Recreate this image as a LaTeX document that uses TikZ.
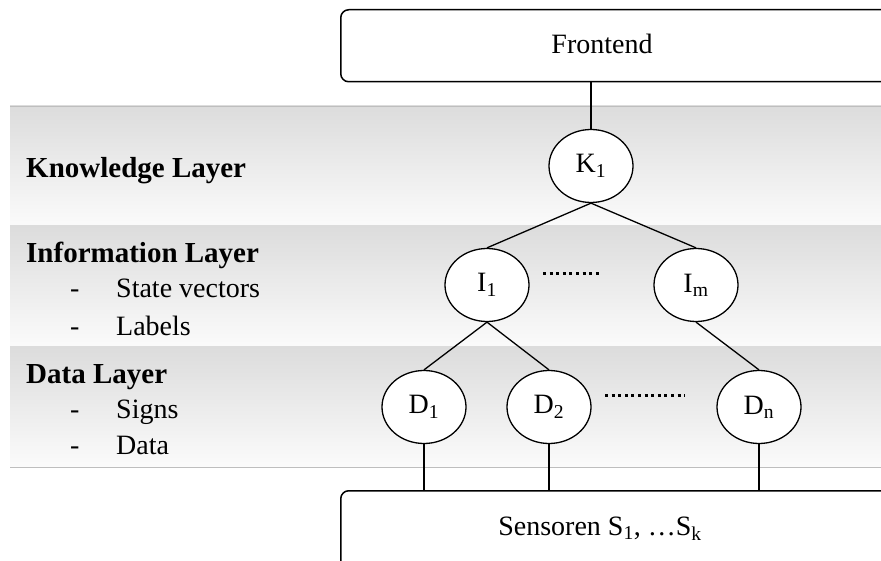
\documentclass[tikz,border=0pt]{standalone}
\usepackage{fontspec}
\setmainfont{Liberation Serif}
\usetikzlibrary{shapes.geometric}
\definecolor{bandtop}{RGB}{220,220,220}
\definecolor{bandbot}{RGB}{251,251,251}
\definecolor{bandline}{RGB}{190,190,190}
\tikzset{
  txt/.style={font=\fontsize{28}{32}\selectfont, inner sep=0pt},
  bold/.style={font=\fontsize{29}{32}\selectfont\bfseries, inner sep=0pt, anchor=base west},
  item/.style={font=\fontsize{28}{32}\selectfont, inner sep=0pt, anchor=base west},
  ell/.style={ellipse, draw=black, line width=1.3pt, fill=white, minimum width=84pt, minimum height=73pt, inner sep=0pt, font=\fontsize{28}{32}\selectfont},
  box/.style={rectangle, rounded corners=8pt, draw=black, line width=1.5pt, fill=white, inner sep=0pt, anchor=north west},
  conn/.style={draw=black, line width=1.3pt},
  dots/.style={draw=black, line width=3pt, dash pattern=on 3pt off 3.6pt}
}
\begin{document}
\begin{tikzpicture}[x=1pt,y=-1pt]
\useasboundingbox (0,0) rectangle (881,561);
\clip (0,0) rectangle (881,561);
\fill[white] (0,0) rectangle (881,561);
% bands
\shade[top color=bandtop, bottom color=bandbot] (10,106) rectangle (881,226);
\shade[top color=bandtop, bottom color=bandbot] (10,226) rectangle (881,347);
\shade[top color=bandtop, bottom color=bandbot] (10,347) rectangle (881,467);
\draw[bandline, line width=0.8pt] (10,106) -- (881,106);
\draw[bandline, line width=0.8pt] (10,467) -- (881,467);
% left labels
\node[bold] (kl) at (26,178) {Knowledge Layer};
\node[bold] (il) at (26,263) {Information Layer};
\node[item] (d1a) at (70,298) {-};
\node[item] (sv) at (116,298) {State vectors};
\node[item] (d1b) at (70,336) {-};
\node[item] (lb) at (116,336) {Labels};
\node[bold] (dl) at (26,383) {Data Layer};
\node[item] (d2a) at (70,418) {-};
\node[item] (sg) at (116,418) {Signs};
\node[item] (d2b) at (70,454) {-};
\node[item] (dt) at (116,454) {Data};
% boxes
\node[box, minimum width=620pt, minimum height=72pt] (front) at (340,9) {};
\node[txt, anchor=base] (fronttxt) at (602,54) {Frontend};
\node[box, minimum width=620pt, minimum height=80pt] (sens) at (340,490) {};
\node[txt, anchor=base] (senstxt) at (600,535) {Sensoren S\textsubscript{1}, \ldots S\textsubscript{k}};
% tree nodes
\node[ell] (K1) at (591,166) {K\textsubscript{1}};
\node[ell] (I1) at (487,285) {I\textsubscript{1}};
\node[ell] (Im) at (696,285) {I\textsubscript{m}};
\node[ell] (D1) at (424,407) {D\textsubscript{1}};
\node[ell] (D2) at (549,407) {D\textsubscript{2}};
\node[ell] (Dn) at (759,407) {D\textsubscript{n}};
% connectors
\draw[conn] (front.south -| K1.north) -- (K1.north);
\draw[conn] (K1.south) -- (I1.north);
\draw[conn] (K1.south) -- (Im.north);
\draw[conn] (I1.south) -- (D1.north);
\draw[conn] (I1.south) -- (D2.north);
\draw[conn] (Im.south) -- (Dn.north);
\draw[conn] (D1.south) -- (D1.south |- sens.north);
\draw[conn] (D2.south) -- (D2.south |- sens.north);
\draw[conn] (Dn.south) -- (Dn.south |- sens.north);
% dots
\coordinate (ia) at (543,274);
\coordinate (ib) at (602,274);
\coordinate (da) at (605,395);
\coordinate (db) at (685,395);
\draw[dots] (ia) -- (ib);
\draw[dots] (da) -- (db);
\end{tikzpicture}
\end{document}
